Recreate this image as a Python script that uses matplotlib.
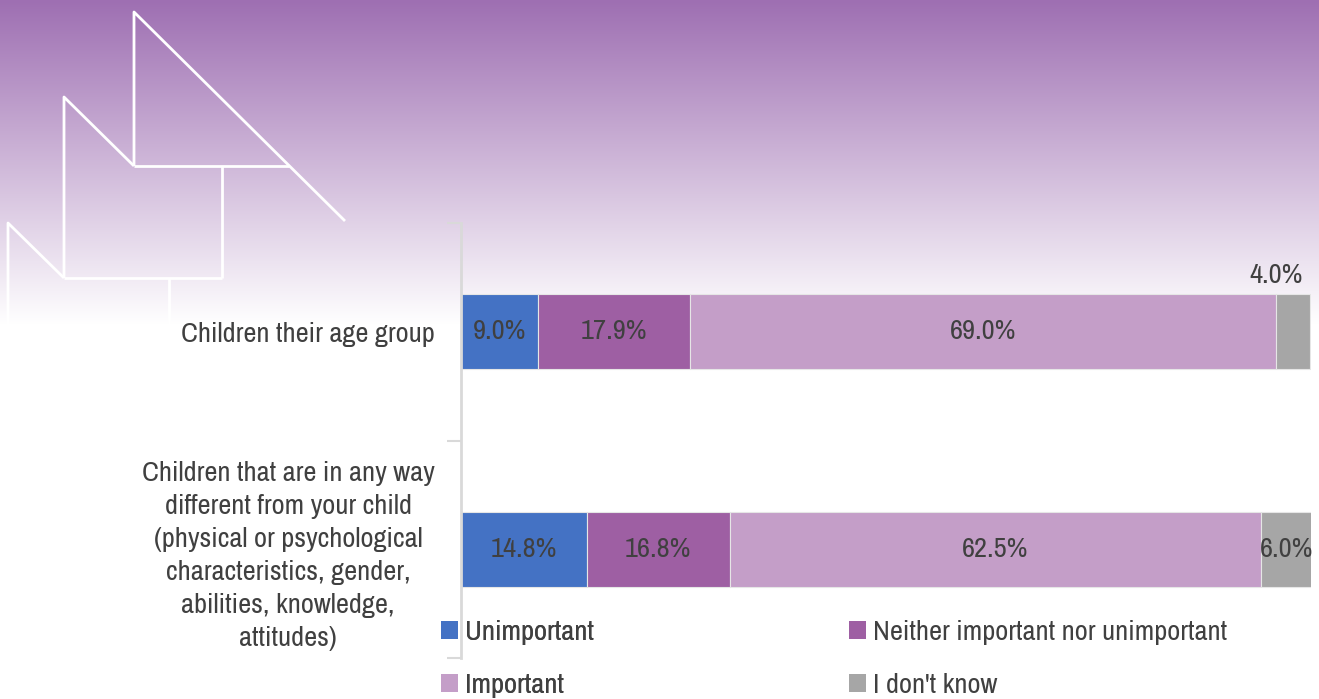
import numpy as np
import matplotlib
matplotlib.use("Agg")
import matplotlib.pyplot as plt
from matplotlib.patches import Patch
from matplotlib import font_manager as fm

# data
categories = [
    "Children their age group",
    "Children that are in any way\ndifferent from your child\n(physical or psychological\n"
    "characteristics, gender,\nabilities, knowledge,\nattitudes)",
]
series_names = ["Unimportant", "Neither important nor unimportant", "Important", "I don't know"]
unimportant = [9.0, 14.8]
neither = [17.9, 16.8]
important = [69.0, 62.5]
dont_know = [4.0, 6.0]

colors = ["#4472C4", "#9E5FA3", "#C49EC8", "#A6A6A6"]
text_col = "#404040"


def pick_font():
    '''Look for a condensed / narrow face, else fall back to Roboto'''
    names = sorted({f.name for f in fm.fontManager.ttflist})
    for key in ("Narrow", "Condensed"):
        for n in names:
            if key in n:
                return n, 20.5
    return "Roboto", 17


font_name, fs = pick_font()
plt.rcParams['font.family'] = [font_name, 'DejaVu Sans']
plt.rcParams['font.weight'] = 'light'

W, H = 1319, 699
fig = plt.figure(figsize=(W / 100, H / 100), dpi=100)
fig.patch.set_facecolor("white")

# background gradient + decorative lines (pixel coords)
bg = fig.add_axes([0, 0, 1, 1], zorder=0)
bg.set_xlim(0, W)
bg.set_ylim(H, 0)
bg.axis("off")
top = np.array([158, 111, 178]) / 255.0
grad_h = 325
t = np.linspace(0, 1, grad_h)[:, None]
img = top[None, :] * (1 - t) + np.ones(3)[None, :] * t
img = np.repeat(img[:, None, :], 2, axis=1)
bg.imshow(img, extent=[0, W, grad_h, 0], aspect="auto")
deco = [
    [(134, 166), (134, 12), (345, 221)],
    [(134, 166), (289, 166)],
    [(222, 166), (222, 278)],
    [(64, 278), (64, 97), (134, 166)],
    [(64, 278), (222, 278)],
    [(169, 278), (169, 330)],
    [(8, 330), (8, 223), (64, 278)],
]
for seg in deco:
    xs, ys = zip(*seg)
    bg.plot(xs, ys, color="white", lw=2, solid_capstyle="butt")

ax = fig.add_axes([461 / W, 1 - 658 / H, 850 / W, 435 / H], zorder=1)
ax.patch.set_alpha(0)

y = np.arange(len(categories))
bar_h = 0.345
left = np.zeros(len(categories))
all_vals = [unimportant, neither, important, dont_know]
for vals, c, name in zip(all_vals, colors, series_names):
    vals = np.array(vals)
    ax.barh(y, vals, left=left, height=bar_h, color=c, edgecolor="#e6e6e6",
            linewidth=0.8, label=name)
    for i, v in enumerate(vals):
        if name == "I don't know" and v < 5:
            ax.text(left[i] + v - 0.9, y[i] - bar_h / 2 - 0.03, f"{v:.1f}%",
                    ha="right", va="bottom", fontsize=fs, color=text_col)
        else:
            ax.text(left[i] + v / 2, y[i], f"{v:.1f}%", ha="center",
                    va="center", fontsize=fs, color=text_col)
    left += vals

ax.set_xlim(0, 100)
ax.set_ylim(1.5, -0.5)
ax.set_xticks([])
ax.set_yticks(y)
ax.set_yticklabels(categories, fontsize=fs, color=text_col, linespacing=1.4,
                   ha="right", multialignment="center")
ax.set_yticks([-0.5, 0.5, 1.5], minor=True)
ax.tick_params(axis="y", which="major", length=0, pad=19)
ax.tick_params(axis="y", which="minor", length=10, color="#d9d9d9", width=1.5)
for s in ["top", "right", "bottom"]:
    ax.spines[s].set_visible(False)
ax.spines["left"].set_color("#d9d9d9")
ax.spines["left"].set_linewidth(2)

# legend: two columns placed separately
leg_kw = dict(loc="upper left", frameon=False, fontsize=fs, handlelength=0.6,
              handleheight=0.6, handletextpad=0.25, labelspacing=1.0,
              borderpad=0, borderaxespad=0, labelcolor=text_col)
col1 = [0, 2]
col2 = [1, 3]
leg1 = fig.legend([Patch(facecolor=colors[i]) for i in col1],
                  [series_names[i] for i in col1],
                  bbox_to_anchor=(441 / W, 1 - 620 / H), **leg_kw)
fig.add_artist(leg1)
fig.legend([Patch(facecolor=colors[i]) for i in col2],
           [series_names[i] for i in col2],
           bbox_to_anchor=(849 / W, 1 - 620 / H), **leg_kw)

fig.savefig("out.png", dpi=100)
